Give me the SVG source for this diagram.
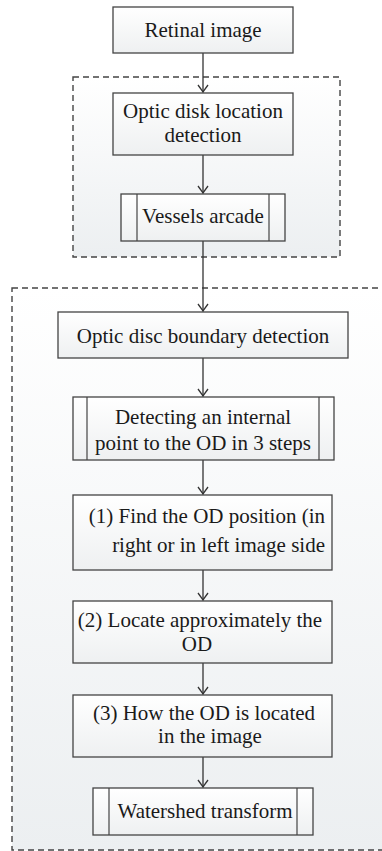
<svg xmlns="http://www.w3.org/2000/svg" width="382" height="851" viewBox="0 0 382 851">
<defs>
<linearGradient id="bg" x1="0" y1="0" x2="0" y2="1">
<stop offset="0" stop-color="#ffffff"/>
<stop offset="1" stop-color="#eceff1"/>
</linearGradient>
<linearGradient id="bx" x1="0" y1="0" x2="0" y2="1">
<stop offset="0" stop-color="#ffffff"/>
<stop offset="1" stop-color="#eef0f1"/>
</linearGradient>
<marker id="ah" markerWidth="12" markerHeight="12" refX="8.5" refY="6" orient="auto" markerUnits="userSpaceOnUse" viewBox="0 0 12 12">
<polyline points="1,1 8,6 1,11" fill="none" stroke="#333" stroke-width="1.3"/>
</marker>
<style>
.grp{fill:url(#bg);stroke:#444;stroke-width:1.4;stroke-dasharray:6 4}
.box{fill:url(#bx);stroke:#444;stroke-width:1.3}
.sub{fill:none;stroke:#444;stroke-width:1.2}
.t{font-family:"Liberation Serif","Times New Roman",serif;font-size:21px;fill:#1a1a1a;text-anchor:middle}
.e{text-anchor:end}
.c{fill:none;stroke:#333;stroke-width:1.3;marker-end:url(#ah)}
</style>
</defs>
<rect width="382" height="851" fill="#ffffff"/>
<g id="group-top"><rect class="grp" x="73" y="77" width="267" height="180"/></g>
<g id="group-bottom"><rect class="grp" x="12" y="288" width="380" height="562"/></g>

<g id="connectors">
<line class="c" x1="203" y1="53" x2="203" y2="92.5"/>
<line class="c" x1="203" y1="155" x2="203" y2="193.5"/>
<line class="c" x1="203" y1="241" x2="203" y2="311.5"/>
<line class="c" x1="203" y1="358" x2="203" y2="396.5"/>
<line class="c" x1="203" y1="460" x2="203" y2="494.5"/>
<line class="c" x1="203" y1="570" x2="203" y2="600.5"/>
<line class="c" x1="203" y1="663" x2="203" y2="694.5"/>
<line class="c" x1="203" y1="757" x2="203" y2="787.5"/>
</g>

<g id="n1"><rect class="box" x="113" y="7" width="180" height="46"/><text class="t" x="203" y="37">Retinal image</text></g>
<g id="n2"><rect class="box" x="113" y="93" width="180" height="62"/><text class="t" x="203" y="118">Optic disk location</text><text class="t" x="203" y="142">detection</text></g>
<g id="n3"><rect class="box" x="121" y="194" width="164" height="47"/><line class="sub" x1="137" y1="194" x2="137" y2="241"/><line class="sub" x1="269" y1="194" x2="269" y2="241"/><text class="t" x="203" y="223">Vessels arcade</text></g>
<g id="n4"><rect class="box" x="58" y="312" width="290" height="46"/><text class="t" x="203" y="343">Optic disc boundary detection</text></g>
<g id="n5"><rect class="box" x="73" y="397" width="261" height="63"/><line class="sub" x1="87" y1="397" x2="87" y2="460"/><line class="sub" x1="319" y1="397" x2="319" y2="460"/><text class="t" x="203" y="424">Detecting an internal</text><text class="t" x="203" y="450">point to the OD in 3 steps</text></g>
<g id="n6"><rect class="box" x="73" y="495" width="259" height="75"/><text class="t e" x="325" y="523">(1) Find the OD position (in</text><text class="t e" x="325" y="552">right or in left image side</text></g>
<g id="n7"><rect class="box" x="73" y="601" width="259" height="62"/><text class="t" x="200" y="627">(2) Locate approximately the</text><text class="t" x="197" y="651">OD</text></g>
<g id="n8"><rect class="box" x="73" y="695" width="259" height="62"/><text class="t" x="204" y="720">(3) How the OD is located</text><text class="t" x="210" y="743">in the image</text></g>
<g id="n9"><rect class="box" x="93" y="788" width="220" height="47"/><line class="sub" x1="109" y1="788" x2="109" y2="835"/><line class="sub" x1="297" y1="788" x2="297" y2="835"/><text class="t" x="205" y="818">Watershed transform</text></g>
</svg>
